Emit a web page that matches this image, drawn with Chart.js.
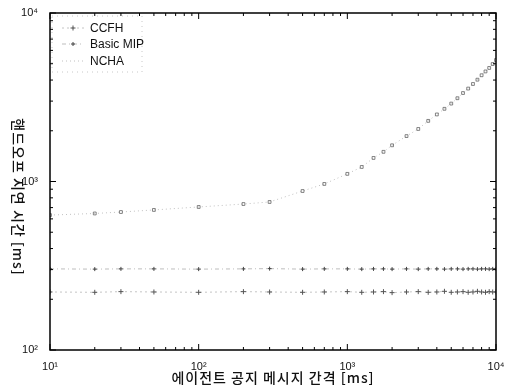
<!DOCTYPE html>
<html>
<head>
<meta charset="utf-8">
<script src="https://cdn.jsdelivr.net/npm/chart.js@4/dist/chart.umd.min.js"></script>
<style>
  html, body { margin: 0; padding: 0; background: #fff; }
  #wrap { width: 507px; height: 390px; position: relative; }
</style>
</head>
<body>
<div id="wrap"><canvas id="chart"></canvas></div>
<script>
// 에이전트 공지 메시지 간격 [ms]
const intervals = [10, 20, 30, 50, 100, 200, 300, 500, 700, 1000, 1250, 1500, 1750, 2000, 2500, 3000, 3500,
    4000, 4500, 5000, 5500, 6000, 6500, 7000, 7500, 8000, 8500, 9000, 9500, 10000];
// 핸드오프 지연 시간 [ms]
const ccfhDelay = [221, 220, 222, 221, 220, 222, 221, 220, 221, 222, 220, 221, 222, 219, 221, 222, 220,
    221, 223, 220, 221, 222, 220, 221, 223, 221, 220, 222, 221, 221];
const basicMipDelay = [303, 302, 303, 303, 302, 303, 304, 302, 303, 303, 302, 303, 303, 302, 303, 302, 303,
    303, 302, 303, 303, 302, 303, 303, 302, 303, 303, 302, 303, 303];
const nchaDelay = [632, 646, 659, 678, 706, 735, 756, 878, 967, 1110, 1220, 1380, 1500, 1640, 1860, 2050, 2290,
    2500, 2700, 2900, 3120, 3350, 3560, 3790, 4020, 4270, 4500, 4720, 4980, 5260];

const seriesNames = ['CCFH', 'Basic MIP', 'NCHA'];
const xTickValues = [10, 100, 1000, 10000];
const xTickLabels = ['10¹', '10²', '10³', '10⁴'];
const yTickValues = [100, 1000, 10000];
const yTickLabels = ['10²', '10³', '10⁴'];

const xTitle = '에이전트 공지 메시지 간격 [ms]';
const yTitle = '핸드오프 지연 시간 [ms]';

const KR_FONT = '"Noto Sans CJK KR", sans-serif';

function toPoints(ys) {
    return intervals.map((x, i) => ({ x: x, y: ys[i] }));
}

//? frame, inward ticks, legend and axis titles
const matlabAxesPlugin = {
    id: 'matlabAxes',
    afterDraw: (chart) => {
        const { ctx, chartArea, scales } = chart;
        const { left, right, top, bottom } = chartArea;
        ctx.save();
        ctx.strokeStyle = '#000';
        ctx.lineWidth = 1.5;
        ctx.strokeRect(left, top, right - left, bottom - top);

        ctx.lineWidth = 1;
        ctx.beginPath();
        for (let d = 1; d <= 4; d++) {
            for (let m = 1; m <= 9; m++) {
                const v = m * Math.pow(10, d);
                if (v < 10 || v > 10000) continue;
                const len = m === 1 ? 6 : 3;
                const px = scales.x.getPixelForValue(v);
                ctx.moveTo(px, bottom); ctx.lineTo(px, bottom - len);
                ctx.moveTo(px, top); ctx.lineTo(px, top + len);
            }
        }
        for (let d = 2; d <= 4; d++) {
            for (let m = 1; m <= 9; m++) {
                const v = m * Math.pow(10, d);
                if (v < 100 || v > 10000) continue;
                const len = m === 1 ? 6 : 3;
                const py = scales.y.getPixelForValue(v);
                ctx.moveTo(left, py); ctx.lineTo(left + len, py);
                ctx.moveTo(right, py); ctx.lineTo(right - len, py);
            }
        }
        ctx.stroke();

        // legend box (faint, as in the scan)
        ctx.strokeStyle = '#c8c8c8';
        ctx.setLineDash([1, 4]);
        ctx.strokeRect(52, 16, 90, 56);

        // legend entries
        const rows = [28, 44, 61];
        chart.data.datasets.forEach((ds, i) => {
            const y = rows[i];
            ctx.strokeStyle = ds.borderColor;
            ctx.lineWidth = 1;
            ctx.setLineDash(ds.borderDash || []);
            ctx.beginPath();
            ctx.moveTo(62, y); ctx.lineTo(84, y);
            ctx.stroke();
            ctx.setLineDash([]);
            if (ds.pointStyle === 'cross') {
                const r = ds.pointRadius;
                ctx.strokeStyle = ds.pointBorderColor;
                ctx.lineWidth = ds.pointBorderWidth;
                ctx.beginPath();
                ctx.moveTo(73 - r, y); ctx.lineTo(73 + r, y);
                ctx.moveTo(73, y - r); ctx.lineTo(73, y + r);
                ctx.stroke();
            }
            ctx.fillStyle = '#111';
            ctx.font = '12px "Liberation Sans", Arial, sans-serif';
            ctx.textAlign = 'left';
            ctx.textBaseline = 'middle';
            ctx.fillText(ds.label, 90, y + 1);
        });

        ctx.fillStyle = '#111';
        ctx.font = '500 14px ' + KR_FONT;
        ctx.letterSpacing = '1px';
        ctx.textAlign = 'center';
        ctx.textBaseline = 'middle';
        // x title
        ctx.fillText(xTitle, (left + right) / 2, 378);
        // y title, rotated clockwise
        ctx.translate(18, 197);
        ctx.rotate(Math.PI / 2);
        ctx.fillText(yTitle, 0, 0);
        ctx.restore();
    }
};

const chart = new Chart('chart', {
    type: 'line',
    data: {
        datasets: [{
            label: seriesNames[0],
            data: toPoints(ccfhDelay),
            borderColor: '#c4c4c4',
            borderWidth: 1,
            borderDash: [2, 3],
            pointStyle: 'cross',
            pointRadius: 2.5,
            pointBorderColor: '#555',
            pointBorderWidth: 1,
            fill: false
        }, {
            label: seriesNames[1],
            data: toPoints(basicMipDelay),
            borderColor: '#bdbdbd',
            borderWidth: 1,
            borderDash: [4, 3, 1, 3],
            pointStyle: 'cross',
            pointRadius: 2,
            pointBorderColor: '#444',
            pointBorderWidth: 1,
            fill: false
        }, {
            label: seriesNames[2],
            data: toPoints(nchaDelay),
            borderColor: '#c0c0c0',
            borderWidth: 1,
            borderDash: [1, 3],
            pointStyle: 'rect',
            pointRadius: 2,
            pointBackgroundColor: 'rgba(0,0,0,0)',
            pointBorderColor: '#666',
            pointBorderWidth: 0.8,
            fill: false
        }]
    },
    options: {
        responsive: true,
        maintainAspectRatio: false,
        animation: false,
        layout: { padding: { top: 13, right: 11, left: 0, bottom: 0 } },
        plugins: {
            legend: { display: false },
            tooltip: { enabled: false }
        },
        scales: {
            x: {
                type: 'logarithmic',
                min: 10,
                max: 10000,
                afterBuildTicks: (axis) => { axis.ticks = xTickValues.map(v => ({ value: v })); },
                afterFit: (axis) => { axis.height = 40; },
                ticks: {
                    autoSkip: false,
                    maxRotation: 0,
                    padding: 2,
                    color: '#111',
                    font: { size: 11, family: '"Liberation Sans", Arial, sans-serif' },
                    callback: (value, index) => xTickLabels[index]
                },
                grid: { display: false },
                border: { display: false }
            },
            y: {
                type: 'logarithmic',
                min: 100,
                max: 10000,
                afterBuildTicks: (axis) => { axis.ticks = yTickValues.map(v => ({ value: v })); },
                afterFit: (axis) => { axis.width = 50; },
                ticks: {
                    autoSkip: false,
                    padding: 4,
                    color: '#111',
                    font: { size: 11, family: '"Liberation Sans", Arial, sans-serif' },
                    callback: (value, index) => yTickLabels[index]
                },
                grid: { display: false },
                border: { display: false }
            }
        }
    },
    plugins: [matlabAxesPlugin]
});
</script>
</body>
</html>
